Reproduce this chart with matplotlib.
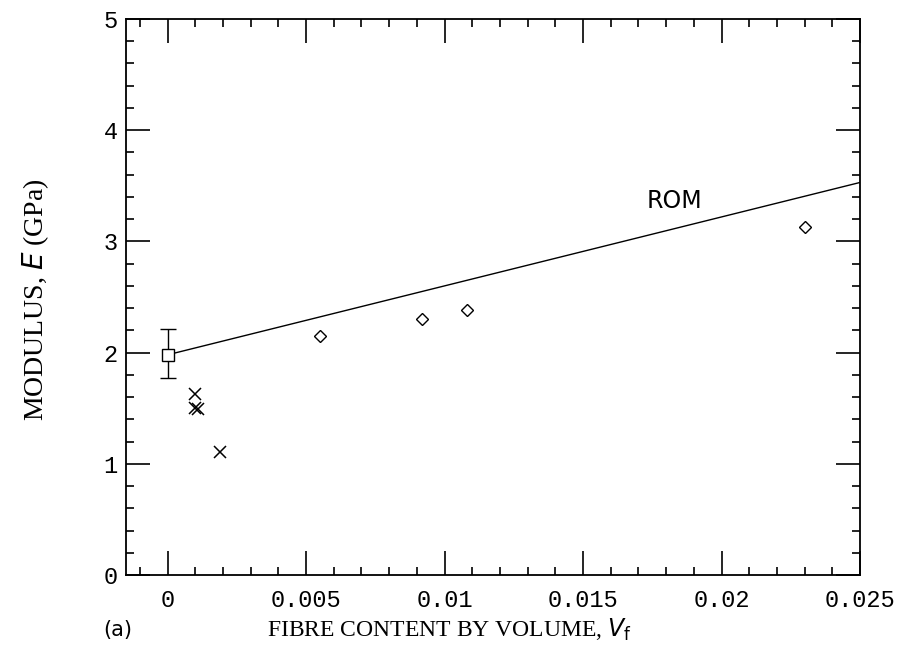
import matplotlib
matplotlib.use('Agg')
import matplotlib.pyplot as plt
from matplotlib.ticker import MultipleLocator

# 数据
pmma_x = [0.0]
pmma_y = [1.98]
pmma_err_lo = [0.21]
pmma_err_hi = [0.23]

cross_x = [0.0010, 0.0010, 0.0011, 0.0019]
cross_y = [1.63, 1.50, 1.49, 1.11]

diamond_x = [0.0055, 0.0092, 0.0108, 0.0230]
diamond_y = [2.15, 2.30, 2.38, 3.13]

rom_x = [0.0, 0.025]
rom_y = [1.98, 3.53]

x_ticks = [0, 0.005, 0.01, 0.015, 0.02, 0.025]
x_tick_labels = ['0', '0.005', '0.01', '0.015', '0.02', '0.025']
y_ticks = [0, 1, 2, 3, 4, 5]

fig = plt.figure(figsize=(9.03, 6.64), dpi=100)
ax = fig.add_axes([0.1395, 0.134, 0.8129, 0.8374])

ax.plot(rom_x, rom_y, color='black', lw=1.0)
ax.errorbar(pmma_x, pmma_y, yerr=[pmma_err_lo, pmma_err_hi], fmt='s', mfc='white',
            mec='black', ms=9, mew=1.0, ecolor='black', elinewidth=1.0, capsize=6, zorder=3)
ax.plot(cross_x, cross_y, 'x', color='black', ms=9, mew=1.1, ls='none')
ax.plot(diamond_x, diamond_y, 'D', mfc='white', mec='black', ms=6, mew=1.0, ls='none')

ax.text(0.0183, 3.36, 'ROM', fontsize=17, family='DejaVu Sans', ha='center', va='center')

ax.set_xlim(-0.0015, 0.025)
ax.set_ylim(0, 5)
ax.set_xticks(x_ticks)
ax.set_xticklabels(x_tick_labels)
ax.set_yticks(y_ticks)
ax.xaxis.set_minor_locator(MultipleLocator(0.001))
ax.yaxis.set_minor_locator(MultipleLocator(0.2))
ax.tick_params(which='both', direction='in', top=True, right=True, width=1.2)
ax.tick_params(which='major', length=17, pad=10)
ax.tick_params(which='minor', length=6)
ax.tick_params(axis='y', pad=6)
for lbl in ax.get_xticklabels() + ax.get_yticklabels():
    lbl.set_family('Liberation Mono')
    lbl.set_fontsize(17)
for s in ax.spines.values():
    s.set_linewidth(1.3)

fig.text(0.039, 0.548, 'MODULUS, $\\mathit{E}$ (GPa)', rotation=90, ha='center', va='center',
         fontsize=20, family='Liberation Serif')
fig.text(0.498, 0.051, 'FIBRE CONTENT BY VOLUME, $\\mathit{V}_\\mathrm{f}$', ha='center', va='center',
         fontsize=17, family='Liberation Serif')
fig.text(0.114, 0.051, '(a)', ha='left', va='center', fontsize=15, family='DejaVu Sans')

fig.savefig('out.png', dpi=100)
